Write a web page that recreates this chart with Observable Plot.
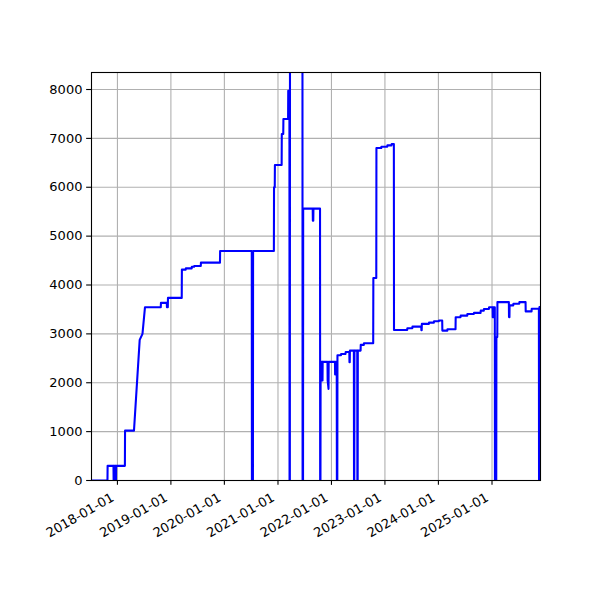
<!DOCTYPE html>
<html>
<head>
<meta charset="utf-8">
<script src="https://cdn.jsdelivr.net/npm/d3@7"></script>
<script src="https://cdn.jsdelivr.net/npm/@observablehq/plot@0.6"></script>
<style>
  html, body { margin: 0; padding: 0; background: white; }
</style>
</head>
<body>
<div id="chart"></div>
<script>
const dates = [
  "2017-07-08","2017-10-25","2017-10-26","2017-12-05","2017-12-06","2017-12-08","2017-12-09","2017-12-19","2017-12-20","2017-12-22","2017-12-23",
  "2018-02-21","2018-02-22","2018-04-24","2018-06-02","2018-06-21","2018-07-08","2018-10-24","2018-10-25","2018-12-04","2018-12-05","2018-12-11","2018-12-12",
  "2019-03-16","2019-03-17","2019-04-12","2019-04-13","2019-05-23","2019-05-24","2019-06-08","2019-06-09","2019-07-24","2019-07-25","2019-12-02","2019-12-03",
  "2020-07-06","2020-07-07","2020-07-14","2020-07-15","2020-12-04","2020-12-05","2020-12-10","2020-12-11",
  "2021-01-26","2021-01-27","2021-02-06","2021-02-07","2021-03-11","2021-03-12","2021-03-20","2021-03-21","2021-03-23","2021-03-24",
  "2021-06-17","2021-06-18","2021-06-21","2021-06-22","2021-08-26","2021-08-27","2021-08-30","2021-08-31",
  "2021-10-15","2021-10-16","2021-10-18","2021-10-19","2021-10-29","2021-10-30","2021-11-01","2021-11-02",
  "2021-12-05","2021-12-06","2021-12-12","2021-12-13",
  "2022-01-25","2022-01-26","2022-01-30","2022-01-31","2022-02-06","2022-02-07","2022-02-10","2022-02-11",
  "2022-03-07","2022-03-08","2022-04-07","2022-04-08","2022-05-03","2022-05-04","2022-05-06","2022-05-07",
  "2022-06-03","2022-06-04","2022-06-06","2022-06-07","2022-06-26","2022-06-27","2022-06-29","2022-06-30",
  "2022-07-19","2022-07-20","2022-08-10","2022-08-11","2022-10-13","2022-10-14","2022-11-03","2022-11-04","2022-12-07","2022-12-08",
  "2023-01-17","2023-01-18","2023-02-15","2023-02-16","2023-03-03","2023-03-04","2023-06-02","2023-06-03","2023-07-07","2023-07-08",
  "2023-09-06","2023-09-07","2023-09-09","2023-09-10","2023-10-28","2023-10-29","2023-12-01","2023-12-02",
  "2024-01-04","2024-01-05","2024-01-27","2024-01-28","2024-03-02","2024-03-03","2024-04-27","2024-04-28","2024-05-31","2024-06-01",
  "2024-07-16","2024-07-17","2024-08-30","2024-08-31","2024-10-15","2024-10-16","2024-11-06","2024-11-07","2024-12-11","2024-12-12",
  "2025-01-05","2025-01-06","2025-01-08","2025-01-09","2025-01-20","2025-01-21","2025-01-30","2025-01-31","2025-02-06","2025-02-07",
  "2025-04-26","2025-04-27","2025-04-30","2025-05-01","2025-05-26","2025-05-27","2025-07-06","2025-07-07","2025-08-18","2025-08-19",
  "2025-09-28","2025-09-29","2025-11-17","2025-11-18","2025-11-20","2025-11-21","2025-11-28"
];
const values = [
  0,0,300,300,0,0,300,300,0,0,300,
  300,1020,1020,2877,3000,3544,3544,3634,3634,3544,3544,3736,
  3736,4315,4315,4340,4340,4375,4375,4390,4390,4458,4458,4697,
  4697,0,0,4697,4697,5998,5998,6455,
  6455,7090,7090,7396,7396,7975,7975,0,0,9500,
  9500,0,0,5562,5562,5317,5317,5562,
  5562,0,0,2427,2427,2045,2045,2427,
  2427,2050,1875,2427,
  2427,2168,2168,2427,2427,0,0,2563,
  2563,2590,2590,2630,2630,2420,2420,2658,
  2658,0,0,2658,2658,0,0,2658,
  2658,2775,2775,2809,2809,4145,4145,6803,6803,6830,
  6830,6857,6857,6884,6884,3081,3081,3115,3115,3149,
  3149,3075,3075,3204,3204,3231,3231,3258,
  3258,3272,3272,3067,3067,3095,3095,3340,3340,3374,
  3374,3408,3408,3429,3429,3476,3476,3510,3510,3544,
  3544,3340,3340,3544,3544,0,0,2934,2934,3650,
  3650,3343,3343,3583,3583,3617,3617,3650,3650,3460,
  3460,3515,3515,0,0,3548,3548
];
const xTickLabels = ["2018-01-01","2019-01-01","2020-01-01","2021-01-01","2022-01-01","2023-01-01","2024-01-01","2025-01-01"];
const yTicks = [0,1000,2000,3000,4000,5000,6000,7000,8000];
const xStart = "2017-07-08", xEnd = "2025-11-28";
const yMax = 8348;

const parse = d3.utcParse("%Y-%m-%d");
const data = dates.map((d, i) => ({date: parse(d), value: values[i]}));
const xTicks = xTickLabels.map(parse);
const fmt = d3.utcFormat("%Y-%m-%d");

const chart = Plot.plot({
  width: 600,
  height: 600,
  marginLeft: 91,
  marginRight: 60,
  marginTop: 72,
  marginBottom: 120,
  style: {fontFamily: "DejaVu Sans", fontSize: "13px", color: "black", background: "white"},
  x: {type: "utc", domain: [parse(xStart), parse(xEnd)]},
  y: {domain: [0, yMax]},
  marks: [
    Plot.gridX(xTicks, {stroke: "#b0b0b0", strokeOpacity: 1, strokeWidth: 1.1}),
    Plot.gridY(yTicks, {stroke: "#b0b0b0", strokeOpacity: 1, strokeWidth: 1.1}),
    Plot.line(data, {x: "date", y: "value", stroke: "#0000ff", strokeWidth: 2.08, clip: true}),
    Plot.frame({stroke: "black", strokeWidth: 1.1}),
    Plot.axisY(yTicks, {tickSize: 4.86, tickPadding: 4.2, label: null, fontSize: 13, strokeWidth: 1.1, tickFormat: d => String(d)}),
    Plot.axisX(xTicks, {tickSize: 4.86, label: null, text: null, strokeWidth: 1.1}),
    Plot.text(xTicks, {x: d => d, frameAnchor: "bottom", text: d => fmt(d), rotate: -30, textAnchor: "end", lineAnchor: "bottom", dx: -2.5, dy: 19.5, fontSize: 13, fill: "black"})
  ]
});
document.getElementById("chart").appendChild(chart);
</script>
</body>
</html>
